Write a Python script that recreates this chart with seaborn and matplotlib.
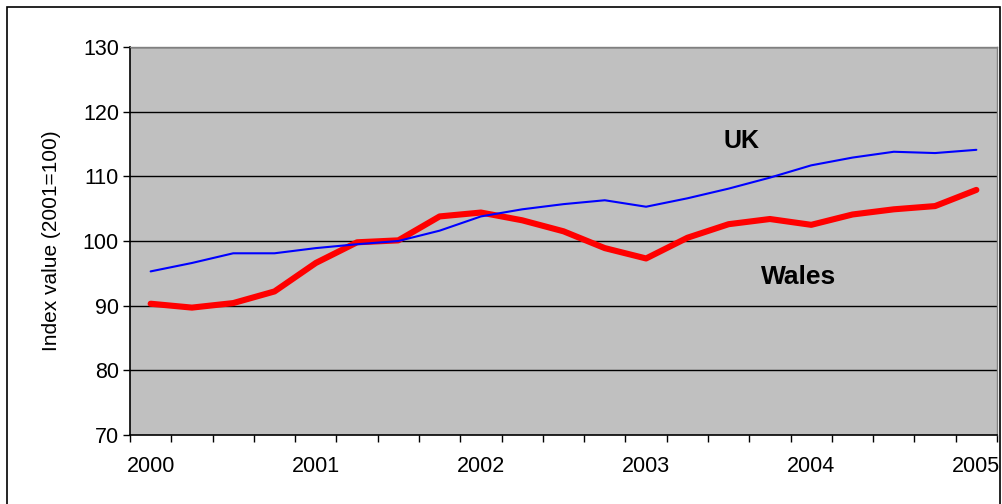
import numpy as np
import pandas as pd
import matplotlib
matplotlib.use("Agg")
import matplotlib.pyplot as plt
import seaborn as sns

# quarterly index values, 2000 Q1 .. 2005 Q1
quarters = list(range(21))
year_labels = ["2000", "2001", "2002", "2003", "2004", "2005"]
uk = [95.3, 96.6, 98.1, 98.1, 98.9, 99.5, 100.0, 101.6, 103.8, 104.9, 105.7,
      106.3, 105.3, 106.6, 108.1, 109.8, 111.7, 112.9, 113.8, 113.6, 114.1]
wales = [90.3, 89.7, 90.4, 92.2, 96.6, 99.8, 100.1, 103.8, 104.4, 103.2, 101.5,
         98.9, 97.3, 100.5, 102.6, 103.4, 102.5, 104.1, 104.9, 105.4, 107.9]

df = pd.DataFrame({"q": quarters, "UK": uk, "Wales": wales})

sns.set_style("white")
plt.rcParams["font.family"] = ["Liberation Sans", "DejaVu Sans"]
plt.rcParams["text.color"] = "black"
plt.rcParams["xtick.color"] = "black"
plt.rcParams["ytick.color"] = "black"
plt.rcParams["axes.labelcolor"] = "black"

fig = plt.figure(figsize=(10.03, 5.04), dpi=100)
ax = fig.add_axes([130 / 1003, 1 - 435 / 504, 867 / 1003, 388 / 504])
ax.set_facecolor("#C0C0C0")

# outer chart border
fig.patches.append(plt.Rectangle((7 / 1003, -0.01), 993 / 1003, 1 - 7 / 504 + 0.01,
                                 transform=fig.transFigure, fill=False,
                                 edgecolor="black", linewidth=1.2))

for y in range(80, 131, 10):
    ax.axhline(y, color="black", linewidth=1.0, zorder=1)

sns.lineplot(data=df, x="q", y="UK", ax=ax, color="#0000FF", linewidth=1.5, zorder=3)
sns.lineplot(data=df, x="q", y="Wales", ax=ax, color="#FF0000", linewidth=4.4,
             zorder=2, solid_capstyle="round")

ax.set_xlim(-0.5, 20.5)
ax.set_ylim(70, 130)
ax.set_yticks(range(70, 131, 10))
ax.tick_params(axis="y", direction="out", length=5, width=1,
               labelsize=15.5, pad=3, left=True)

ax.set_xticks(np.arange(-0.5, 21, 1), minor=True)
ax.set_xticks(range(0, 21, 4))
ax.set_xticklabels(year_labels)
ax.tick_params(axis="x", which="major", length=0, labelsize=15.5, pad=15)
ax.tick_params(axis="x", which="minor", direction="out", length=5, width=1,
               bottom=True)

ax.set_xlabel("")
ax.set_ylabel("Index value (2001=100)", fontsize=15, labelpad=16)

for side in ["left", "bottom"]:
    ax.spines[side].set_color("black")
    ax.spines[side].set_linewidth(1.2)
for side in ["top", "right"]:
    ax.spines[side].set_color("#808080")
    ax.spines[side].set_linewidth(1.0)

ax.text(14.3, 115.5, "UK", fontsize=18, fontweight="bold", ha="center", va="center")
ax.text(15.7, 94.4, "Wales", fontsize=19, fontweight="bold", ha="center", va="center")

fig.savefig("out.png", dpi=100)
